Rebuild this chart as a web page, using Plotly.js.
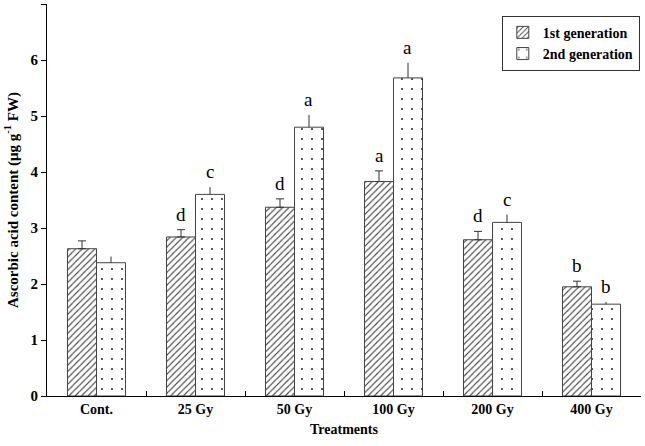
<!DOCTYPE html>
<html>
<head>
<meta charset="utf-8">
<script src="https://cdn.plot.ly/plotly-3.0.1.min.js"></script>
<style>html,body{margin:0;padding:0;background:#fff;}#chart{width:645px;height:446px;}</style>
</head>
<body>
<div id="chart"></div>
<script>
var categories = ['Cont.', '25 Gy', '50 Gy', '100 Gy', '200 Gy', '400 Gy'];
var gen1 = [2.63, 2.84, 3.37, 3.83, 2.79, 1.95];
var gen1Err = [0.14, 0.13, 0.15, 0.19, 0.15, 0.10];
var gen2 = [2.38, 3.60, 4.80, 5.68, 3.10, 1.64];
var gen2Err = [0.11, 0.13, 0.22, 0.27, 0.14, 0.04];
var letters1 = ['', 'd', 'd', 'a', 'd', 'b'];
var letters2 = ['', 'c', 'a', 'a', 'c', 'b'];

var font = 'Liberation Serif, Times New Roman, serif';

var trace1 = {
  type: 'bar', name: '1st generation', x: categories, y: gen1,
  marker: {color: '#ffffff', line: {color: '#444444', width: 1},
    pattern: {shape: '/', size: 4.5, solidity: 0.25, fgcolor: '#444444', bgcolor: '#ffffff'}},
  error_y: {type: 'data', symmetric: false, array: gen1Err, arrayminus: gen1.map(function(){return 0;}),
    color: '#333333', thickness: 1, width: 4}
};
var trace2 = {
  type: 'bar', name: '2nd generation', x: categories, y: gen2,
  marker: {color: '#ffffff', line: {color: '#444444', width: 1},
    pattern: {shape: '.', size: 10, solidity: 0.03, fgcolor: '#222222', bgcolor: '#ffffff'}},
  error_y: {type: 'data', symmetric: false, array: gen2Err, arrayminus: gen2.map(function(){return 0;}),
    color: '#333333', thickness: 1, width: 0}
};

var annotations = [];
categories.forEach(function(c, i) {
  if (letters1[i]) annotations.push({x: i - 0.146, y: gen1[i] + gen1Err[i], xref: 'x', yref: 'y',
    text: letters1[i], showarrow: false, yanchor: 'bottom', yshift: 3,
    font: {family: font, size: 19, color: '#000'}});
  if (letters2[i]) annotations.push({x: i + 0.146, y: gen2[i] + gen2Err[i], xref: 'x', yref: 'y',
    text: letters2[i], showarrow: false, yanchor: 'bottom', yshift: 3,
    font: {family: font, size: 19, color: '#000'}});
});

var layout = {
  width: 645, height: 446,
  margin: {l: 47, r: 4, t: 4, b: 50},
  paper_bgcolor: '#fff', plot_bgcolor: '#fff',
  barmode: 'group', bargap: 0.414, bargroupgap: 0,
  font: {family: font, color: '#000'},
  showlegend: true,
  legend: {x: 0.998, xanchor: 'right', y: 0.97, yanchor: 'top',
    bordercolor: '#333', borderwidth: 1, bgcolor: '#fff',
    font: {family: font, size: 14, color: '#000', weight: 'bold'},
    tracegroupgap: 0, itemwidth: 30},
  xaxis: {
    type: 'category', showline: true, linecolor: '#000', linewidth: 1,
    ticks: 'inside', tickson: 'boundaries', ticklen: 5, tickcolor: '#000',
    tickfont: {family: font, size: 14, color: '#000', weight: 'bold'},
    title: {text: 'Treatments', font: {family: font, size: 14, color: '#000', weight: 'bold'}, standoff: 8},
    showgrid: false, zeroline: false
  },
  yaxis: {
    range: [0, 7], dtick: 1, showline: true, linecolor: '#000', linewidth: 1,
    ticks: 'outside', ticklen: 5, tickcolor: '#000',
    tickfont: {family: font, size: 15, color: '#000', weight: 'bold'},
    title: {text: 'Ascorbic acid content (μg g<sup>-1</sup> FW)', font: {family: font, size: 15, color: '#000', weight: 'bold'}, standoff: 8},
    showgrid: false, zeroline: false
  },
  annotations: annotations
};

Plotly.newPlot('chart', [trace1, trace2], layout, {displayModeBar: false, staticPlot: true});
</script>
</body>
</html>
